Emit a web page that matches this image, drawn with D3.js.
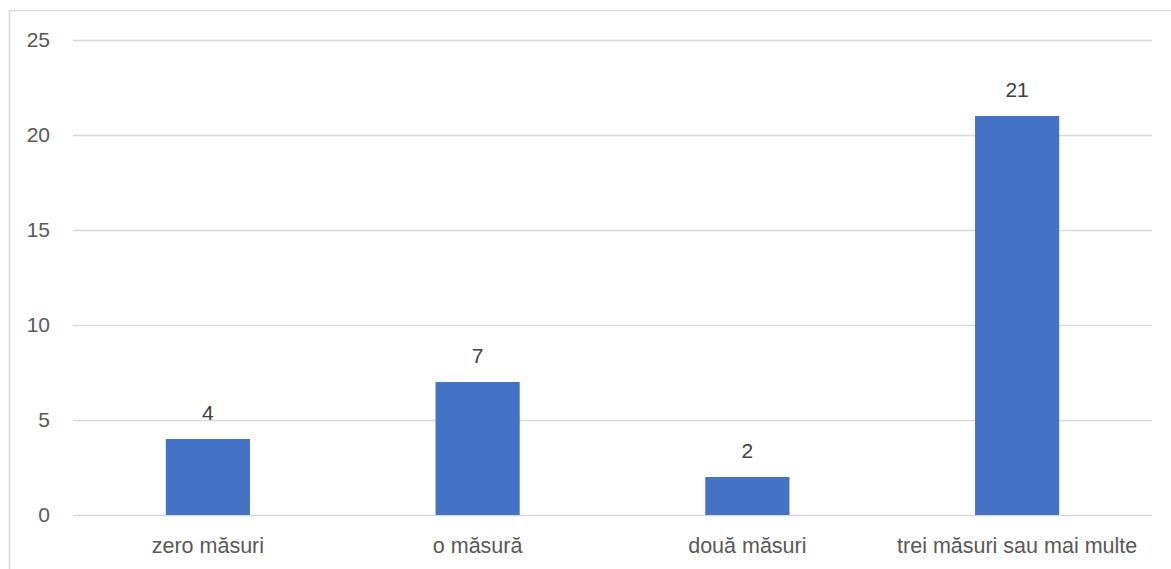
<!DOCTYPE html>
<html>
<head>
<meta charset="utf-8">
<script src="https://cdn.jsdelivr.net/npm/d3@7"></script>
<style>
  html, body { margin: 0; padding: 0; background: #fff; }
  svg { display: block; font-family: "Liberation Sans", Arial, sans-serif; }
</style>
</head>
<body>
<svg id="chart" width="1171" height="569"></svg>
<script>
// Chart data
const categories = ['zero măsuri', 'o măsură', 'două măsuri', 'trei măsuri sau mai multe'];
const values = [4, 7, 2, 21];
const yTicks = [0, 5, 10, 15, 20, 25];

const width = 1171;
const height = 569;
const margin = { top: 40, right: 19, bottom: 54, left: 73 };

const svg = d3.select('#chart');

// Outer chart border (cut off at right and bottom in the picture)
svg.append('path')
  .attr('d', `M9.5,${height} V10.5 H${width}`)
  .attr('fill', 'none')
  .attr('stroke', '#d9d9d9')
  .attr('stroke-width', 1.5);

const x = d3.scaleBand()
  .domain(categories)
  .range([margin.left, width - margin.right])
  .paddingInner(0.688)
  .paddingOuter(0.344);

const y = d3.scaleLinear()
  .domain([0, 25])
  .range([height - margin.bottom, margin.top]);

// Gridlines
svg.append('g')
  .selectAll('line')
  .data(yTicks)
  .join('line')
  .attr('x1', margin.left)
  .attr('x2', width - margin.right)
  .attr('y1', d => Math.round(y(d)) + 0.5)
  .attr('y2', d => Math.round(y(d)) + 0.5)
  .attr('stroke', '#d9d9d9')
  .attr('stroke-width', 1.5);

// Y tick labels
svg.append('g')
  .selectAll('text')
  .data(yTicks)
  .join('text')
  .attr('x', 50)
  .attr('y', d => y(d))
  .attr('dy', '0.35em')
  .attr('text-anchor', 'end')
  .attr('fill', '#595959')
  .attr('font-size', 21)
  .text(d => d);

// Bars
svg.append('g')
  .selectAll('rect')
  .data(values)
  .join('rect')
  .attr('x', (d, i) => x(categories[i]))
  .attr('y', d => y(d))
  .attr('width', x.bandwidth())
  .attr('height', d => y(0) - y(d))
  .attr('fill', '#4472c4');

// Value labels
svg.append('g')
  .selectAll('text')
  .data(values)
  .join('text')
  .attr('x', (d, i) => x(categories[i]) + x.bandwidth() / 2)
  .attr('y', d => y(d) - 19)
  .attr('text-anchor', 'middle')
  .attr('fill', '#404040')
  .attr('font-size', 21)
  .text(d => d);

// Category labels
svg.append('g')
  .selectAll('text')
  .data(categories)
  .join('text')
  .attr('x', d => x(d) + x.bandwidth() / 2)
  .attr('y', 553)
  .attr('text-anchor', 'middle')
  .attr('fill', '#595959')
  .attr('font-size', 21.5)
  .text(d => d);
</script>
</body>
</html>
